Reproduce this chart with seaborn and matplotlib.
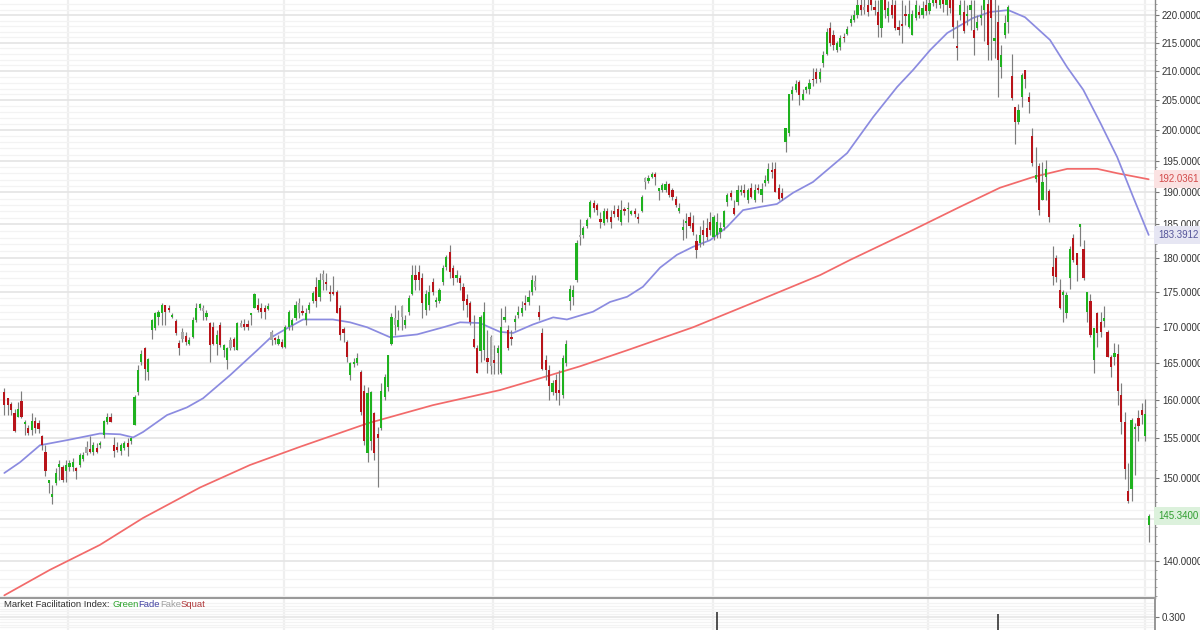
import numpy as np
import pandas as pd
import matplotlib
matplotlib.use("Agg")
import matplotlib.pyplot as plt
import matplotlib.transforms as mtrans
import seaborn as sns
from matplotlib.ticker import FixedLocator, NullFormatter, FuncFormatter
from matplotlib.offsetbox import TextArea, HPacker, AnchoredOffsetbox

# ---------------- data (daily candles) ----------------
opens = [
161.1,160.2,159.5,158.3,157.8,159.8,156.8,156.3,156.1,157.2,
157.0,155.3,153.2,149.4,147.6,149.3,151.4,151.4,150.8,151.4,
151.4,151.1,151.6,152.3,153.1,153.6,153.2,153.8,154.1,155.4,
157.1,157.7,154.1,153.9,153.4,153.7,154.4,154.6,156.7,161.1,
165.1,167.0,163.7,169.5,169.8,171.4,171.9,173.0,172.7,171.3,
170.8,167.7,169.2,168.7,167.6,168.6,170.9,172.6,172.2,171.4,
170.5,170.0,167.6,170.2,166.7,165.4,167.0,168.3,166.7,170.0,
170.2,170.2,171.6,172.6,173.0,172.6,172.6,172.5,168.1,168.3,
167.6,167.8,167.2,170.0,170.2,171.2,171.9,172.1,170.9,172.3,
173.7,175.6,174.2,176.7,176.4,175.0,175.0,175.0,172.6,169.6,
167.8,163.3,164.8,164.9,163.7,161.2,153.1,154.7,158.3,155.6,
156.3,160.4,161.7,167.6,170.2,170.0,171.4,170.2,172.1,174.7,
177.4,177.9,176.9,172.4,173.0,176.4,173.5,173.7,176.4,178.6,
180.8,178.4,176.9,176.9,175.7,173.9,173.3,168.3,167.0,166.6,
166.7,165.6,168.6,165.3,166.3,163.6,170.9,169.5,168.6,170.7,
171.6,171.9,173.3,173.5,175.0,175.7,172.1,169.1,165.3,164.0,
161.1,162.6,161.3,160.6,164.9,173.7,174.2,176.7,183.4,183.4,
184.8,186.1,188.3,188.0,185.9,185.2,187.0,186.1,187.0,187.3,
185.4,187.2,187.3,186.6,187.0,186.1,187.0,191.6,191.8,192.4,
192.9,190.2,190.4,190.4,191.3,190.4,189.0,187.0,184.1,185.2,
186.1,185.2,182.4,182.2,184.2,184.4,185.4,183.1,183.4,183.9,
184.6,188.4,189.8,187.5,188.4,190.0,190.4,188.8,190.7,188.8,
190.7,189.5,191.4,191.8,193.5,193.7,190.7,189.9,198.1,199.5,
206.0,206.8,208.1,205.0,206.7,207.0,208.6,209.8,208.6,211.4,
213.1,217.7,216.4,213.7,214.3,216.1,216.6,218.6,219.1,220.0,
221.9,221.0,221.9,222.7,221.5,220.6,217.7,222.7,219.8,221.9,
221.9,217.9,218.4,220.0,217.9,216.4,219.4,220.6,220.0,221.9,
220.7,222.2,223.8,221.9,223.5,221.9,223.1,222.7,214.4,220.0,
220.6,219.8,220.9,217.3,217.7,219.4,220.9,222.1,222.7,215.4,
218.8,210.8,216.4,218.8,209.1,203.9,201.4,205.6,210.2,205.6,
199.1,192.1,194.1,188.7,192.4,190.2,178.6,180.0,175.2,174.5,
171.9,176.9,183.0,180.6,184.6,181.3,172.1,173.7,165.4,171.9,
170.7,170.8,169.3,165.8,165.8,166.2,160.6,157.1,148.4,148.6,
156.2,157.6,158.7,155.3,144.3]

highs = [
161.6,160.3,159.7,158.8,159.7,161.2,157.4,156.7,158.3,157.7,
157.4,155.4,154.1,149.7,149.1,151.2,152.2,151.6,152.2,152.2,
152.5,151.4,153.1,153.2,154.7,155.3,154.5,154.4,154.7,157.4,
158.3,158.3,155.2,154.5,154.4,154.7,155.0,155.2,160.6,164.7,
166.7,167.2,165.6,171.0,172.0,172.3,173.3,173.1,173.0,171.9,
171.1,168.1,169.8,169.3,168.5,171.4,173.3,173.3,173.0,172.4,
170.7,170.6,169.5,170.7,167.6,167.2,168.6,168.6,170.7,170.9,
171.1,170.9,171.9,174.8,174.0,173.3,173.0,173.3,169.5,168.6,
168.8,168.3,170.2,172.4,171.2,173.7,174.0,173.0,172.7,173.5,
175.1,177.1,177.7,178.1,177.7,175.9,177.2,175.2,173.0,169.9,
168.1,165.1,165.6,166.3,164.0,162.0,161.7,161.2,158.4,156.5,
162.2,163.4,166.1,171.9,173.0,172.4,173.0,171.6,174.5,178.9,
178.9,178.9,177.7,175.2,175.9,177.0,174.2,175.5,178.9,180.3,
181.8,178.9,178.1,177.4,176.2,174.7,173.7,171.6,167.4,171.6,
173.5,169.5,168.8,167.4,167.4,172.7,172.9,170.2,169.5,171.6,
172.9,173.7,174.5,175.2,177.4,177.4,173.0,169.8,166.1,164.7,
162.6,163.4,164.0,166.1,168.1,175.9,175.9,182.6,185.9,184.8,
186.0,188.7,188.7,188.3,186.9,187.5,187.5,187.2,188.0,188.0,
188.7,187.7,188.4,187.2,187.5,186.8,189.5,192.4,192.7,193.2,
193.2,190.7,191.4,191.8,191.5,190.7,189.4,188.3,185.9,186.7,
186.9,186.4,183.6,184.8,185.6,186.0,186.9,186.4,186.7,185.4,
187.2,189.8,190.3,188.7,191.1,191.1,191.3,190.7,191.5,191.3,
191.3,191.4,192.7,194.6,194.8,194.8,191.3,190.7,200.4,206.0,
207.5,208.5,208.5,207.0,207.5,208.6,210.5,210.5,210.5,213.6,
217.7,218.8,217.3,215.4,216.4,216.8,218.0,220.0,220.9,222.9,
223.1,222.9,223.1,223.8,222.7,222.7,223.8,223.8,222.5,222.9,
222.7,219.1,222.7,221.9,222.7,220.9,222.7,221.9,222.5,222.9,
223.8,225.0,225.0,225.0,224.4,223.8,224.4,223.8,219.1,222.7,
222.7,221.9,222.7,222.7,220.0,221.9,223.8,223.8,223.8,223.8,
221.9,214.6,220.0,221.9,213.1,203.9,204.3,209.7,210.2,206.5,
200.3,197.3,194.6,194.8,195.2,190.5,181.7,180.3,176.8,175.2,
175.0,181.7,183.6,180.6,185.1,182.6,175.0,174.7,169.8,172.1,
172.1,172.9,169.5,166.1,167.7,167.6,162.3,158.4,151.8,157.6,
157.0,158.6,159.6,160.1,145.6]

lows = [
158.0,158.0,158.0,155.8,157.7,157.6,155.4,155.4,155.4,155.7,
155.7,153.5,150.2,148.1,146.8,149.1,149.7,149.5,149.5,150.9,
150.9,149.9,151.4,152.1,152.8,153.1,152.8,153.1,153.8,155.0,
156.8,157.1,152.6,153.2,152.8,153.5,152.7,154.3,156.7,160.6,
164.7,162.6,162.6,168.3,169.5,170.2,170.2,170.2,172.1,171.2,
168.8,166.1,167.8,167.4,167.4,168.4,170.6,172.4,170.9,170.9,
165.1,167.4,166.1,167.2,165.8,164.2,166.7,166.7,166.7,170.0,
169.5,169.5,170.2,172.6,172.1,171.2,171.0,172.4,167.4,167.5,
167.4,167.0,167.0,169.5,169.5,170.9,171.2,171.6,170.2,171.9,
173.3,172.8,173.7,175.2,175.2,173.7,174.5,171.9,168.1,167.8,
165.1,162.6,164.4,164.7,158.0,154.1,152.0,153.5,152.2,148.9,
156.1,160.0,161.2,167.4,168.8,169.5,169.5,169.8,171.6,174.5,
175.2,175.2,171.2,171.6,172.4,174.5,172.8,173.3,175.9,178.1,
176.9,175.9,176.4,175.2,172.4,171.4,170.2,167.0,163.6,165.1,
165.4,163.6,163.4,163.4,163.4,163.4,170.6,166.7,167.4,169.5,
171.2,171.5,172.4,173.0,174.5,175.2,170.9,164.0,162.6,160.0,
160.6,160.0,159.3,160.3,164.5,172.4,173.0,176.4,181.9,182.9,
184.4,186.0,186.9,186.4,184.4,184.9,185.4,184.4,186.1,185.7,
184.9,186.4,185.4,186.4,186.1,185.2,186.9,190.5,191.5,192.2,
191.1,188.8,190.0,190.0,189.2,188.8,187.7,186.7,182.6,182.9,
184.4,183.4,179.9,181.5,181.9,182.6,183.4,182.6,182.9,182.9,
184.1,187.8,188.8,186.4,188.0,189.5,189.2,188.3,189.1,188.4,
189.9,188.4,190.9,191.5,192.2,190.0,188.8,188.8,196.5,199.1,
205.0,206.4,204.2,205.0,206.2,206.1,207.4,207.9,208.1,210.8,
212.8,214.5,213.7,213.3,213.7,215.1,216.4,218.0,218.8,219.4,
220.0,220.2,219.8,221.0,220.0,216.1,216.1,219.5,218.8,219.4,
217.3,216.4,215.0,218.1,217.7,216.4,219.1,219.5,219.4,220.0,
220.2,221.6,221.2,221.2,220.6,220.0,220.4,215.8,212.0,219.1,
216.7,218.1,217.3,212.8,217.3,218.1,215.4,212.0,212.0,212.3,
205.6,208.9,215.8,216.7,205.0,197.8,201.0,203.9,207.1,202.8,
194.1,191.6,186.4,188.7,188.7,185.4,175.9,176.4,172.5,170.7,
171.2,175.3,179.3,176.5,181.7,176.7,170.7,168.6,163.6,167.2,
168.6,169.9,165.8,163.1,164.7,159.3,155.6,149.9,146.9,147.1,
150.3,154.7,156.8,154.6,142.3]

closes = [
159.3,159.3,158.6,155.9,158.8,157.7,157.1,155.7,157.2,156.3,
156.2,154.1,150.9,149.7,148.0,150.6,151.6,149.7,151.6,151.9,
152.0,150.9,152.8,152.8,153.9,153.3,154.1,153.2,154.4,157.2,
157.7,157.1,153.4,153.5,154.1,154.4,153.9,155.0,160.4,164.0,
166.2,164.2,165.5,170.9,171.9,172.1,173.1,172.1,172.4,171.6,
169.1,167.0,168.3,167.8,168.1,170.9,172.6,173.2,172.6,171.9,
167.4,167.6,168.8,167.4,167.4,167.0,168.1,167.2,170.5,170.5,
170.0,170.0,171.7,174.7,172.4,172.1,172.1,172.9,169.3,168.1,
168.3,167.2,170.0,172.1,170.9,173.0,173.3,171.9,171.9,173.0,
174.8,173.7,176.7,177.6,176.1,174.7,174.7,171.9,168.8,169.1,
165.8,164.9,165.1,165.6,158.4,154.6,160.9,161.1,153.1,155.0,
161.2,163.1,166.1,171.4,171.2,170.9,172.9,170.9,174.0,177.4,
176.7,176.7,173.3,174.7,175.0,175.0,173.6,175.2,178.4,180.1,
177.9,176.9,177.4,176.2,173.7,173.1,170.7,167.2,163.6,171.4,
172.1,165.1,164.5,164.9,167.0,170.0,171.4,167.0,168.3,170.9,
172.1,172.6,173.0,174.2,176.7,176.5,171.4,164.2,164.0,161.8,
162.2,160.9,160.9,165.6,167.6,175.4,175.2,182.1,183.1,184.4,
185.7,188.4,187.5,187.2,185.4,187.1,185.9,185.4,186.6,186.1,
187.2,187.0,187.6,187.0,186.6,185.9,189.2,192.2,192.2,192.8,
192.4,190.7,191.1,191.3,189.5,189.3,188.0,187.6,184.6,185.4,
184.8,183.8,181.1,183.4,183.4,183.1,184.1,186.1,185.4,184.4,
187.0,189.5,189.3,186.6,190.3,190.4,189.8,190.4,189.3,190.4,
190.4,190.5,192.0,193.7,193.2,190.0,189.0,189.1,200.4,206.0,
206.8,207.8,205.9,206.1,207.2,208.0,208.4,208.6,209.8,212.8,
217.0,215.0,214.6,215.0,215.8,215.8,217.4,219.3,220.0,221.9,
221.0,221.5,220.6,221.9,220.9,218.1,222.7,220.9,221.2,220.0,
217.6,217.3,218.0,219.8,220.2,220.2,221.9,220.0,221.2,220.7,
222.2,223.8,222.2,223.5,222.0,222.7,221.2,217.9,214.0,221.9,
217.1,220.2,221.9,215.8,218.8,220.0,222.7,214.6,219.4,215.8,
212.0,212.8,218.5,221.5,205.4,201.4,203.4,209.3,208.7,204.7,
194.6,192.7,187.2,191.6,193.6,186.1,177.3,177.1,172.6,175.0,
174.5,181.3,179.6,178.9,185.0,176.9,175.0,168.8,169.8,169.1,
169.3,171.2,165.8,164.4,166.3,161.2,157.1,151.1,147.1,157.4,
156.5,156.6,158.0,158.1,145.34]

# candles whose bar is coloured "Fake" (grey) by the Market Facilitation Index
fake_idx = [24, 52, 58, 66, 69, 78, 86, 93, 114, 116, 142, 155, 168, 187, 251]

# moving averages (candle index, value)
ma50_idx = [0, 4.6, 10.4, 18.3, 27.9, 33.8, 37.6, 40.5, 47.5, 53.3, 58.0, 65.9, 73.8, 77.6, 82.5,
            87.2, 95.9, 100.9, 105.9, 112.6, 120.5, 128.1, 133.0, 138.8, 144.7, 148.5, 154.3, 160.2,
            164.2, 171.8, 176.8, 181.8, 186.4, 191.4, 196.3, 201.0, 206.0, 210.9, 215.6, 220.6, 225.5,
            230.2, 236.0, 246.0, 253.6, 260.6, 265.2, 270.2, 275.2, 282.7, 287.7, 293.0, 297.9, 305.2,
            310.2, 314.9, 319.9, 324.8, 329.5, 334]
ma50_val = [150.6, 151.95, 154.1, 154.75, 155.6, 155.5, 155.1, 155.8, 158.0, 159.0, 160.2, 163.3, 166.7,
            168.4, 169.75, 171.0, 171.0, 170.6, 169.9, 168.5, 168.9, 169.9, 170.6, 170.5, 169.25, 169.1,
            170.3, 171.3, 171.0, 172.1, 173.5, 174.25, 175.7, 178.5, 180.4, 181.6, 182.6, 184.6, 187.2,
            187.7, 188.15, 189.9, 191.6, 196.25, 202.2, 207.3, 210.2, 213.7, 216.75, 219.45, 220.55,
            220.9, 219.6, 215.5, 210.7, 206.8, 201.2, 195.6, 189.2, 183.3912]
ma200_idx = [0, 13.3, 27.9, 40.5, 57.1, 71.7, 86.3, 105.9, 125.1, 144.7, 154.3, 168.0, 181.8, 201.0,
             220.6, 238.1, 246.9, 265.2, 278.9, 290.6, 300.3, 310.2, 319.0, 324.8, 334]
ma200_val = [136.1, 139.0, 141.9, 145.1, 148.8, 151.6, 153.9, 156.9, 159.3, 161.3, 162.6, 164.5, 166.7,
             169.9, 173.8, 177.4, 179.65, 184.15, 187.7, 190.7, 192.4, 193.7, 193.7, 193.0, 192.0361]

# lower panel: market facilitation index spikes
mfi_idx = [208, 290]
mfi_val = [0.318, 0.310]

price_ticks = [140, 145, 150, 155, 160, 165, 170, 175, 180, 185, 190, 195, 200, 205, 210, 215, 220]
hidden_tick = 145   # covered by the last-price box in the reference
quarter_lines = [18.5, 81.5, 142.6, 206.7, 269.7, 332.9]

# ---------------- styling ----------------
sns.set_theme(style="white")
plt.rcParams['font.family'] = ['Liberation Sans', 'DejaVu Sans']

W, H = 1200, 630
fig = plt.figure(figsize=(W / 100, H / 100), dpi=100)
fig.patch.set_facecolor('white')
ax = fig.add_axes([0, 32 / H, 1155 / W, 598 / H])
ax2 = fig.add_axes([0, 0, 1155 / W, 32 / H])

n = len(opens)
idx = np.arange(n)
o = np.array(opens); h = np.array(highs); l = np.array(lows); c = np.array(closes)
GREEN, RED, GREY = '#1fb21f', '#b8141a', '#a9a9a9'
cols = [GREY if i in fake_idx else (GREEN if c[i] >= o[i] else RED) for i in range(n)]

xlim = (-1.26, 335.84)
ax.set_xlim(*xlim)
ax.set_yscale('log')
ax.set_ylim(135.8, 222.75)

# grid
ax.yaxis.set_major_locator(FixedLocator(price_ticks))
ax.yaxis.set_minor_locator(FixedLocator(list(range(136, 223))))
ax.yaxis.set_major_formatter(FuncFormatter(lambda v, p: "" if abs(v - hidden_tick) < 1e-6 else f"{v:.4f}"))
ax.yaxis.set_minor_formatter(NullFormatter())
ax.set_xticks(quarter_lines)
ax.grid(which='major', axis='y', color='#e6e6e6', lw=1.3, zorder=0)
ax.grid(which='minor', axis='y', color='#f3f3f3', lw=0.9, zorder=0)
ax.grid(which='major', axis='x', color='#efefef', lw=1.6, zorder=0)
ax.set_axisbelow(True)
ax.yaxis.tick_right()
ax.tick_params(axis='y', which='major', length=3, width=0.8, color='#777', direction='out',
               labelsize=7, labelcolor='#333', pad=2)
ax.tick_params(axis='y', which='minor', length=1.5, width=0.6, color='#999', direction='out')
ax.tick_params(axis='x', length=0, labelbottom=False)
for s in ['left', 'top', 'bottom']:
    ax.spines[s].set_visible(False)
ax.spines['right'].set_color('#8a8a8a')
ax.spines['right'].set_linewidth(1.0)

# moving averages
sns.lineplot(data=pd.DataFrame({'i': ma200_idx, 'v': ma200_val}), x='i', y='v', ax=ax,
             color='#f26a6a', lw=1.25, zorder=2, legend=False)
sns.lineplot(data=pd.DataFrame({'i': ma50_idx, 'v': ma50_val}), x='i', y='v', ax=ax,
             color='#8b8be0', lw=1.25, zorder=2, legend=False)
ax.set_xlabel(''); ax.set_ylabel('')

# candles
ax.vlines(idx, l, h, color='#7d7d7d', lw=0.85, zorder=3)
lo = np.minimum(o, c); hi = np.maximum(o, c)
ax.bar(idx, np.maximum(hi - lo, 0.3), bottom=lo, width=0.64, color=cols, linewidth=0, zorder=4)

# last-value boxes on the price scale
trans = mtrans.blended_transform_factory(ax.transAxes, ax.transData)
x_lab = 1 + 3.4 / 1155
for val, txt, fc, tc in [(192.0361, '192.0361', '#fbe2e2', '#d24a4a'),
                         (183.3912, '183.3912', '#e6e6f3', '#55559a'),
                         (145.34, '145.3400', '#dcf1dc', '#2f9e2f')]:
    ax.text(x_lab, val, txt, transform=trans, fontsize=7, color=tc, va='center', ha='left',
            clip_on=False, zorder=20,
            bbox=dict(boxstyle='square,pad=0.42', fc=fc, ec='none'))

# ---------------- lower panel ----------------
ax2.set_xlim(*xlim)
ax2.set_ylim(0.25, 0.37)
ax2.vlines(mfi_idx, 0, mfi_val, color='#222222', lw=1.1, zorder=3)
ax2.yaxis.tick_right()
ax2.yaxis.set_major_locator(FixedLocator([0.3]))
ax2.yaxis.set_minor_locator(FixedLocator([0.26, 0.27, 0.28, 0.29, 0.31, 0.32, 0.33, 0.34, 0.35]))
ax2.yaxis.set_major_formatter(FuncFormatter(lambda v, p: f"{v:.3f}"))
ax2.set_xticks(quarter_lines)
ax2.grid(which='major', axis='y', color='#e6e6e6', lw=1.2)
ax2.grid(which='minor', axis='y', color='#f3f3f3', lw=0.9)
ax2.grid(which='major', axis='x', color='#efefef', lw=1.6)
ax2.set_axisbelow(True)
ax2.tick_params(axis='y', which='major', length=3, width=0.8, color='#777', direction='out',
                labelsize=7, labelcolor='#333', pad=2)
ax2.tick_params(axis='y', which='minor', length=0)
ax2.tick_params(axis='x', length=0, labelbottom=False)
for s in ['left', 'bottom']:
    ax2.spines[s].set_visible(False)
ax2.spines['right'].set_color('#8a8a8a')
ax2.spines['top'].set_color('#9a9a9a')
ax2.spines['top'].set_linewidth(1.5)

parts = [("Market Facilitation Index: ", '#333333'), ("Green", '#2ea52e'), ("Fade", '#4343a3'),
         ("Fake", '#a0a0a0'), ("Squat", '#b0383a')]
boxes = [TextArea(t, textprops=dict(color=col, fontsize=6.8)) for t, col in parts]
pack = HPacker(children=boxes, align='baseline', pad=0, sep=0)
anch = AnchoredOffsetbox(loc='upper left', child=pack, pad=0, frameon=False, borderpad=0,
                         bbox_to_anchor=(4 / W, (H - 600) / H), bbox_transform=fig.transFigure)
ax2.add_artist(anch)

fig.savefig('out.png', dpi=100)
